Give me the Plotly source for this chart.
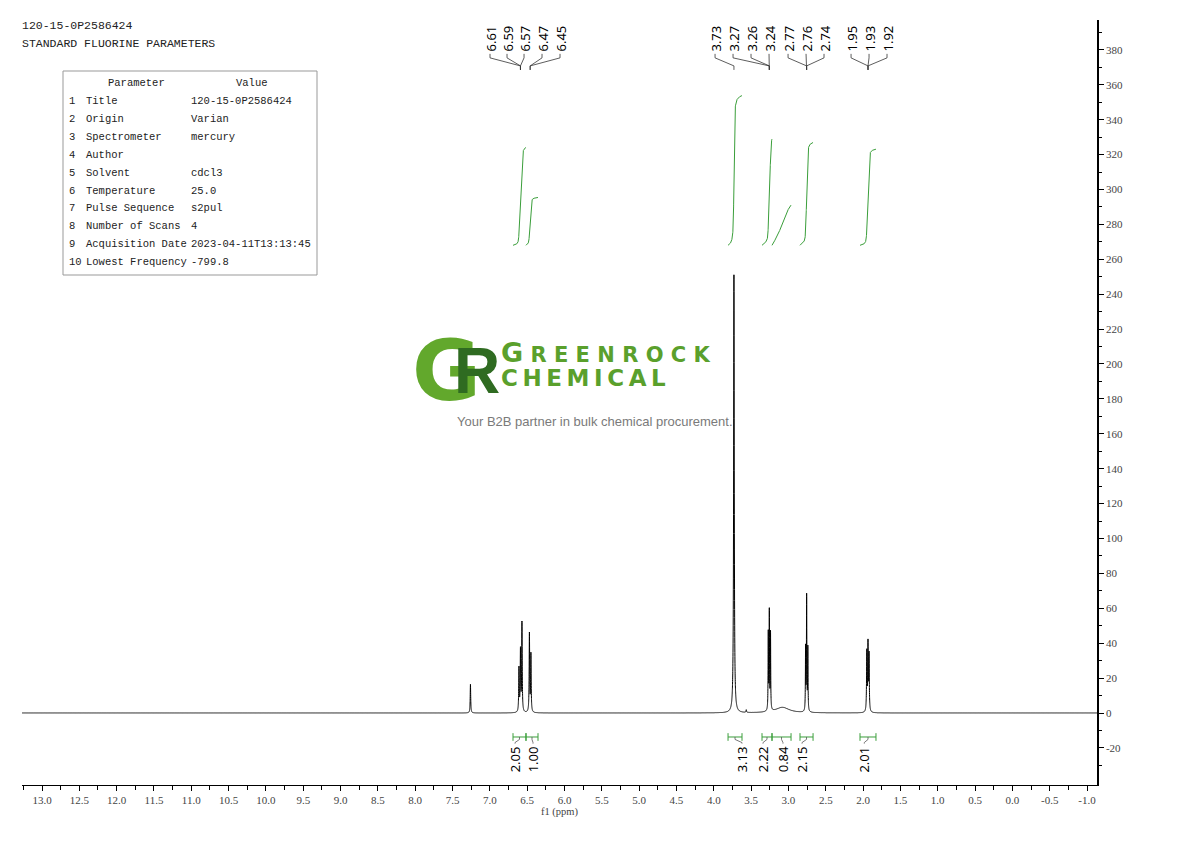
import numpy as np
import plotly.graph_objects as go

# ---------------- data ----------------
peak_ppm    = [7.26, 6.61, 6.59, 6.57, 6.47, 6.45, 3.73, 3.565, 3.27, 3.256, 3.24, 3.08, 2.77, 2.756, 2.74, 1.95, 1.934, 1.92]
peak_height = [16.5, 25.0, 35.0, 51.0, 45.0, 33.0, 251.0, 1.5, 44.0, 56.0, 44.0, 3.2, 36.0, 65.5, 36.0, 34.0, 38.0, 32.0]
peak_width  = [0.004, 0.004, 0.004, 0.004, 0.004, 0.004, 0.005, 0.004, 0.003, 0.003, 0.003, 0.11, 0.003, 0.003, 0.003, 0.004, 0.004, 0.004]

label_text       = ["6.61", "6.59", "6.57", "6.47", "6.45", "3.73", "3.27", "3.26", "3.24",
                    "2.77", "2.76", "2.74", "1.95", "1.93", "1.92"]
label_pos_ppm    = [6.998, 6.770, 6.542, 6.301, 6.060, 3.983, 3.742, 3.501, 3.260,
                    3.005, 2.764, 2.523, 2.161, 1.920, 1.679]
label_target_ppm = [6.59, 6.59, 6.59, 6.46, 6.46, 3.73, 3.256, 3.256, 3.256,
                    2.756, 2.756, 2.756, 1.934, 1.934, 1.934]

int_start     = [6.690, 6.516, 3.809, 3.354, 3.220, 2.845, 2.041]
int_end       = [6.516, 6.355, 3.622, 3.220, 2.965, 2.670, 1.827]
int_value     = [2.05, 1.00, 3.13, 2.22, 0.84, 2.15, 2.01]
int_label_ppm = [6.663, 6.422, 3.622, 3.341, 3.073, 2.818, 1.984]

param_index = ["1", "2", "3", "4", "5", "6", "7", "8", "9", "10"]
param_name  = ["Title", "Origin", "Spectrometer", "Author", "Solvent", "Temperature",
               "Pulse Sequence", "Number of Scans", "Acquisition Date", "Lowest Frequency"]
param_value = ["120-15-0P2586424", "Varian", "mercury", "", "cdcl3", "25.0", "s2pul", "4",
               "2023-04-11T13:13:45", "-799.8"]

title_lines = ["120-15-0P2586424", "STANDARD FLUORINE PARAMETERS"]

x_tick_vals = [round(v, 2) for v in np.arange(-1.0, 13.01, 0.5)]
x_minor_vals = [round(v, 2) for v in np.arange(-1.0, 13.26, 0.25)]
y_tick_vals = list(range(-20, 381, 20))
y_minor_vals = list(range(-30, 391, 10))

X_RANGE = [13.268, -1.134]
Y_RANGE = [-41.26, 397.1]
INT_BASE = 268.0
INT_SCALE = 27.4

# ---------------- layout helpers (page pixel coords) ----------------
OFF = 8                      # default body margin of the html page
FIG_W, FIG_H = 1174, 825
L, R, T, B = 22, 1097, 20, 785
def px(xp):
    return (xp - L) / (R - L)
def py(yp):
    return (B - yp) / (B - T)

# ---------------- spectrum ----------------
x = np.arange(-1.134, 13.268, 0.0005)
x = np.union1d(x, np.array(peak_ppm))
y = np.zeros_like(x)
for p, h, w in zip(peak_ppm, peak_height, peak_width):
    y += h / (1.0 + ((x - p) / w) ** 2)

fig = go.Figure()
fig.add_trace(go.Scatter(x=x, y=y, mode="lines", line=dict(color="black", width=1, simplify=False),
                         hoverinfo="skip"))

# integral curves
GREEN = "#3a9e3a"
for s, e, v in zip(int_start, int_end, int_value):
    m = (x <= s) & (x >= e)
    xs = x[m][::-1]
    ys = y[m][::-1]
    cum = np.concatenate([[0.0], np.cumsum(0.5 * (ys[1:] + ys[:-1]) * np.abs(np.diff(xs)))])
    f = cum / cum[-1]
    fig.add_trace(go.Scatter(x=xs, y=INT_BASE + v * INT_SCALE * f, mode="lines",
                             line=dict(color=GREEN, width=1), hoverinfo="skip"))

# integration brackets
BR_Y = -13.75
bx, by = [], []
for s, e in zip(int_start, int_end):
    bx += [s, s, None, s, e, None, e, e, None]
    by += [BR_Y - 2.2, BR_Y + 2.2, None, BR_Y, BR_Y, None, BR_Y - 2.2, BR_Y + 2.2, None]
fig.add_trace(go.Scatter(x=bx, y=by, mode="lines", line=dict(color=GREEN, width=1), hoverinfo="skip"))

# integration label leaders
lx, ly = [], []
for s, e, lp in zip(int_start, int_end, int_label_ppm):
    c = 0.5 * (s + e)
    lx += [c, c, lp, lp, None]
    ly += [BR_Y, BR_Y - 1.4, BR_Y - 3.2, BR_Y - 3.8, None]
fig.add_trace(go.Scatter(x=lx, y=ly, mode="lines", line=dict(color="#555555", width=0.8), hoverinfo="skip"))

for v, lp in zip(int_value, int_label_ppm):
    fig.add_annotation(x=lp, y=BR_Y - 4.2, xref="x", yref="y", text=f"{v:.2f}", showarrow=False,
                       textangle=-90, xanchor="center", yanchor="top",
                       font=dict(family="Noto Sans", size=13, color="black"))

# peak label leaders
pl_x, pl_y = [], []
for lp, tp in zip(label_pos_ppm, label_target_ppm):
    pl_x += [lp, lp, tp, tp, None]
    pl_y += [377.7, 375.4, 370.8, 368.5, None]
fig.add_trace(go.Scatter(x=pl_x, y=pl_y, mode="lines", line=dict(color="#333333", width=0.8), hoverinfo="skip"))

for t, lp in zip(label_text, label_pos_ppm):
    fig.add_annotation(x=lp, y=377.9, xref="x", yref="y", text=t, showarrow=False,
                       textangle=-90, xanchor="center", yanchor="bottom",
                       font=dict(family="Noto Sans", size=13, color="black"))

# ---------------- title & parameter table ----------------
MONO = "Liberation Mono"
for i, t in enumerate(title_lines):
    fig.add_annotation(x=px(20), y=py(26 + 17 * i), xref="paper", yref="paper", text=t, showarrow=False,
                       xanchor="left", yanchor="middle", font=dict(family=MONO, size=11.5, color="#222"))

fig.add_shape(type="rect", xref="paper", yref="paper", x0=px(63), x1=px(317), y0=py(275), y1=py(71),
              line=dict(color="#999999", width=1))
fig.add_annotation(x=px(136), y=py(83), xref="paper", yref="paper", text="Parameter", showarrow=False,
                   xanchor="center", yanchor="middle", font=dict(family=MONO, size=10.5, color="#222"))
fig.add_annotation(x=px(252), y=py(83), xref="paper", yref="paper", text="Value", showarrow=False,
                   xanchor="center", yanchor="middle", font=dict(family=MONO, size=10.5, color="#222"))
for i, (n, nm, val) in enumerate(zip(param_index, param_name, param_value)):
    yy = py(101 + 17.9 * i)
    fig.add_annotation(x=px(67), y=yy, xref="paper", yref="paper", text=n, showarrow=False,
                       xanchor="left", yanchor="middle", font=dict(family=MONO, size=10.5, color="#222"))
    fig.add_annotation(x=px(84), y=yy, xref="paper", yref="paper", text=nm, showarrow=False,
                       xanchor="left", yanchor="middle", font=dict(family=MONO, size=10.5, color="#222"))
    if val:
        fig.add_annotation(x=px(189), y=yy, xref="paper", yref="paper", text=val, showarrow=False,
                           xanchor="left", yanchor="middle", font=dict(family=MONO, size=10.5, color="#222"))

# ---------------- watermark logo ----------------
fig.add_annotation(x=px(446), y=py(371), xref="paper", yref="paper", text="<b>G</b>", showarrow=False,
                   xanchor="center", yanchor="middle", font=dict(family="DejaVu Sans", size=84, color="#62a82c"))
fig.add_annotation(x=px(477), y=py(371), xref="paper", yref="paper", text="<b>R</b>", showarrow=False,
                   xanchor="center", yanchor="middle", font=dict(family="Liberation Sans", size=64, color="#2f6b21"))
fig.add_annotation(x=px(499), y=py(352), xref="paper", yref="paper",
                   text='<b><span style="font-size:27px">G</span> R E E N R O C K</b>', showarrow=False,
                   xanchor="left", yanchor="middle", font=dict(family="DejaVu Sans", size=21, color="#5aa02c"))
fig.add_annotation(x=px(499), y=py(378), xref="paper", yref="paper",
                   text="<b>C\u2009H\u2009E\u2009M\u2009I\u2009C\u2009A\u2009L</b>", showarrow=False,
                   xanchor="left", yanchor="middle", font=dict(family="DejaVu Sans", size=23, color="#5aa02c"))
fig.add_annotation(x=px(595), y=py(421), xref="paper", yref="paper",
                   text="Your B2B partner in bulk chemical procurement.", showarrow=False,
                   xanchor="center", yanchor="middle", font=dict(family="Liberation Sans", size=13, color="#7a7a7a"))

# ---------------- axes ----------------
TICKFONT = dict(family="Liberation Serif", size=11, color="#444444")
fig.update_layout(
    width=FIG_W, height=FIG_H,
    margin=dict(l=L - OFF, r=FIG_W - (R - OFF), t=T - OFF, b=FIG_H - (B - OFF)),
    plot_bgcolor="white", paper_bgcolor="white",
    showlegend=False,
    xaxis=dict(range=X_RANGE, showline=True, linecolor="black", linewidth=1,
               tickmode="array", tickvals=x_tick_vals, ticktext=[f"{v:.1f}" for v in x_tick_vals],
               ticks="outside", ticklen=5, tickcolor="black",
               minor=dict(tickmode="array", tickvals=x_minor_vals, ticks="outside", ticklen=4, tickcolor="black"),
               showgrid=False, zeroline=False, tickfont=TICKFONT,
               title=dict(text="f1 (ppm)", font=dict(family="Liberation Serif", size=10.5, color="#444"), standoff=2)),
    yaxis=dict(range=Y_RANGE, side="right", showline=True, linecolor="black", linewidth=1.5,
               tickmode="array", tickvals=y_tick_vals, ticktext=[str(v) for v in y_tick_vals],
               ticks="outside", ticklen=5, tickcolor="black",
               minor=dict(tickmode="array", tickvals=y_minor_vals, ticks="outside", ticklen=3, tickcolor="black"),
               showgrid=False, zeroline=False, tickfont=TICKFONT),
)

fig.write_html("out.html")
